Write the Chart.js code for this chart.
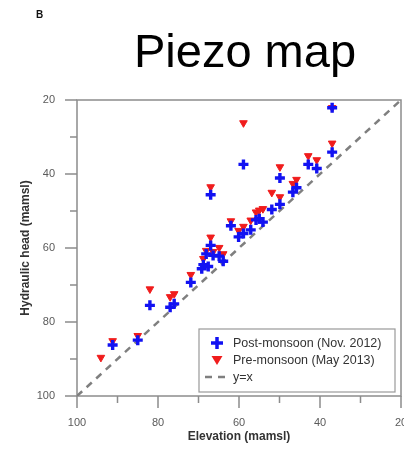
<!DOCTYPE html>
<html lang="en">
<head>
    <meta charset="UTF-8">
    <title>Piezo map</title>
    <script src="https://cdn.jsdelivr.net/npm/chart.js"></script>
    <style>
        html, body { margin: 0; padding: 0; background: #fff; overflow: hidden; }
        .chart-container { position: relative; width: 420px; height: 451px; }
    </style>
</head>
<body>
    <div class="chart-container">
        <canvas id="piezoChart" width="420" height="451"></canvas>
    </div>

    <script>
        // Well elevation (mamsl) and hydraulic head for the two campaigns
        const elevation   = [94.1, 91.2, 85.0, 82.0, 77.0, 76.0, 71.9, 69.2, 68.8, 68.1, 67.6, 67.0, 67.0, 66.4, 64.9, 63.9,
                             62.0, 60.1, 58.9, 58.9, 57.1, 55.8, 55.0, 54.1, 51.9, 49.9, 49.9, 46.7, 45.8, 42.9, 40.8, 37.0, 37.0];
        const postMonsoon = [null, 86.2, 84.9, 75.5, 76.0, 75.1, 69.3, 65.6, 64.5, 61.6, 65.0, 45.6, 59.3, 62.0, 62.2, 63.6,
                             54.0, 57.0, 56.1, 37.4, 55.1, 52.4, 52.1, 53.0, 49.6, 48.2, 41.1, 44.9, 43.7, 37.4, 38.5, 34.1, 22.1];
        const preMonsoon  = [89.6, 85.1, 83.7, 71.1, 73.2, 72.4, 67.2, null, 62.9, 60.7, null, 43.5, 57.1, 61.0, 59.9, 61.6,
                             52.7, 55.3, 54.2, 26.2, 52.5, 50.3, 49.8, 49.4, 45.0, 46.2, 38.1, 42.6, 41.5, 35.1, 36.2, 31.7, 22.1];
        const axisRange = [20, 100];
        const seriesLabels = ['Post-monsoon (Nov. 2012)', 'Pre-monsoon (May 2013)', 'y=x'];

        const FONT = "'Liberation Sans', Arial, sans-serif";
        const BLUE = '#1212f2';
        const RED = '#f01c1c';
        const GREY = '#8c8c8c';

        function toPoints(values) {
            return elevation
                .map((e, i) => ({ x: e, y: values[i] }))
                .filter(p => p.y !== null);
        }

        // frame, tick marks, legend box and headings
        const decorations = {
            id: 'decorations',
            beforeDatasetsDraw(chart) {
                const { ctx, chartArea: a, scales: { x, y } } = chart;
                ctx.save();
                ctx.strokeStyle = GREY;
                ctx.lineWidth = 1.5;
                ctx.strokeRect(a.left, a.top, a.right - a.left, a.bottom - a.top);
                ctx.beginPath();
                x.ticks.forEach(t => {
                    const px = x.getPixelForValue(t.value);
                    const len = t.value % 20 === 0 ? 12 : 7;
                    ctx.moveTo(px, a.bottom);
                    ctx.lineTo(px, a.bottom + len);
                });
                y.ticks.forEach(t => {
                    const py = y.getPixelForValue(t.value);
                    const len = t.value % 20 === 0 ? 12 : 7;
                    ctx.moveTo(a.left, py);
                    ctx.lineTo(a.left - len, py);
                });
                ctx.stroke();
                ctx.restore();
            },
            afterDraw(chart) {
                const { ctx } = chart;
                ctx.save();

                // panel letter and heading
                ctx.fillStyle = '#111';
                ctx.font = 'bold 10px ' + FONT;
                ctx.textAlign = 'left';
                ctx.textBaseline = 'middle';
                ctx.fillText('B', 36, 15);
                ctx.fillStyle = '#000';
                ctx.font = '47px ' + FONT;
                ctx.textAlign = 'center';
                ctx.textBaseline = 'alphabetic';
                ctx.fillText('Piezo map', 245, 67);

                // legend
                const bx = 199, by = 329, bw = 196, bh = 63;
                ctx.fillStyle = '#fff';
                ctx.fillRect(bx, by, bw, bh);
                ctx.strokeStyle = '#999';
                ctx.lineWidth = 1.2;
                ctx.strokeRect(bx, by, bw, bh);

                const sx = 217;
                const rows = [343, 360, 377];
                const ds = chart.data.datasets;

                // blue cross
                ctx.strokeStyle = ds[0].borderColor;
                ctx.lineWidth = 3.5;
                ctx.beginPath();
                ctx.moveTo(sx - 6, rows[0]); ctx.lineTo(sx + 6, rows[0]);
                ctx.moveTo(sx, rows[0] - 6); ctx.lineTo(sx, rows[0] + 6);
                ctx.stroke();

                // red triangle
                ctx.fillStyle = ds[1].backgroundColor;
                ctx.beginPath();
                ctx.moveTo(sx - 5.5, rows[1] - 4);
                ctx.lineTo(sx + 5.5, rows[1] - 4);
                ctx.lineTo(sx, rows[1] + 5);
                ctx.closePath();
                ctx.fill();

                // dashed line
                ctx.strokeStyle = ds[2].borderColor;
                ctx.lineWidth = 2.5;
                ctx.setLineDash([7, 6]);
                ctx.beginPath();
                ctx.moveTo(sx - 12, rows[2]);
                ctx.lineTo(sx + 9, rows[2]);
                ctx.stroke();
                ctx.setLineDash([]);

                ctx.fillStyle = '#333';
                ctx.font = '12.5px ' + FONT;
                ctx.textAlign = 'left';
                ctx.textBaseline = 'middle';
                ds.forEach((d, i) => ctx.fillText(d.label, 233, rows[i] + 1));
                ctx.restore();
            }
        };

        const tickOpts = {
            stepSize: 10,
            autoSkip: false,
            maxRotation: 0,
            color: '#5a5a5a',
            font: { family: FONT, size: 11 },
            callback: v => (v % 20 === 0 ? v : '')
        };

        const titleFont = { family: FONT, size: 12, weight: 'bold' };

        new Chart(document.getElementById('piezoChart'), {
            type: 'scatter',
            data: {
                datasets: [
                    {
                        label: seriesLabels[0],
                        data: toPoints(postMonsoon),
                        pointStyle: 'cross',
                        radius: 5,
                        borderWidth: 3.4,
                        borderColor: BLUE,
                        backgroundColor: BLUE,
                        order: 0
                    },
                    {
                        label: seriesLabels[1],
                        data: toPoints(preMonsoon),
                        pointStyle: 'triangle',
                        rotation: 180,
                        radius: 4.4,
                        borderWidth: 1,
                        borderColor: RED,
                        backgroundColor: RED,
                        order: 1
                    },
                    {
                        type: 'line',
                        label: seriesLabels[2],
                        data: [{ x: axisRange[1], y: axisRange[1] }, { x: axisRange[0], y: axisRange[0] }],
                        borderColor: '#7f7f7f',
                        borderWidth: 2.5,
                        borderDash: [7, 6],
                        pointRadius: 0,
                        fill: false,
                        order: 2
                    }
                ]
            },
            options: {
                responsive: false,
                animation: false,
                events: [],
                layout: { padding: { top: 100, right: 19, left: 0, bottom: 0 } },
                plugins: {
                    legend: { display: false },
                    tooltip: { enabled: false }
                },
                scales: {
                    x: {
                        type: 'linear',
                        position: 'bottom',
                        min: axisRange[0],
                        max: axisRange[1],
                        reverse: true,
                        ticks: { ...tickOpts, padding: 8 },
                        grid: { drawOnChartArea: false, tickLength: 12, tickColor: 'rgba(0,0,0,0)' },
                        border: { display: false },
                        title: {
                            display: true,
                            text: 'Elevation (mamsl)',
                            color: '#333',
                            font: titleFont,
                            padding: { top: 0, bottom: 6.8 }
                        },
                        afterFit: scale => { scale.height = 55; }
                    },
                    y: {
                        type: 'linear',
                        min: axisRange[0],
                        max: axisRange[1],
                        reverse: true,
                        ticks: { ...tickOpts, padding: 10 },
                        grid: { drawOnChartArea: false, tickLength: 12, tickColor: 'rgba(0,0,0,0)' },
                        border: { display: false },
                        title: {
                            display: true,
                            text: 'Hydraulic head (mamsl)',
                            color: '#333',
                            font: titleFont,
                            padding: { top: 18, bottom: 0 }
                        },
                        afterFit: scale => { scale.width = 77; }
                    }
                }
            },
            plugins: [decorations]
        });
    </script>
</body>
</html>
